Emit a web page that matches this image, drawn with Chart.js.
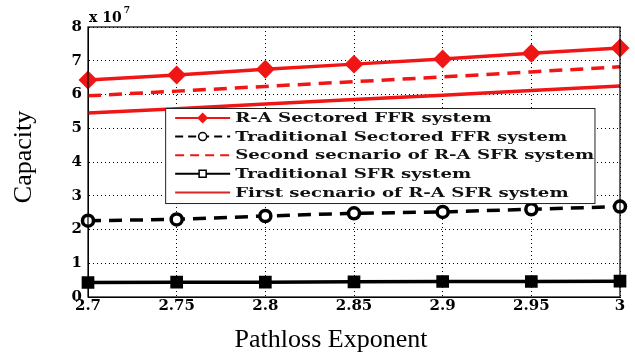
<!DOCTYPE html>
<html>
<head>
<meta charset="utf-8">
<script src="https://cdn.jsdelivr.net/npm/chart.js@4.4.1/dist/chart.umd.min.js"></script>
<style>
  html, body { margin:0; padding:0; background:#fff; }
  #wrap { width:635px; height:362px; }
</style>
</head>
<body>
<div id="wrap"><canvas id="c" width="635" height="362"></canvas></div>
<script>
/* ====== データ（値は ×10^7） ====== */
const xLabels = ['2.7','2.75','2.8','2.85','2.9','2.95','3'];
const raSectoredFFR   = [6.43, 6.58, 6.75, 6.90, 7.05, 7.22, 7.38];
const tradSectoredFFR = [2.26, 2.30, 2.40, 2.48, 2.52, 2.60, 2.68];
const secondScenario  = [5.96, 6.10, 6.24, 6.38, 6.52, 6.67, 6.82];
const tradSFR         = [0.43, 0.44, 0.44, 0.45, 0.46, 0.46, 0.47];
const firstScenario   = [5.45, 5.58, 5.72, 5.85, 5.98, 6.12, 6.25];
const yMin = 0, yMax = 8, yStep = 1;

const RED = 'rgb(240,22,22)';
const TICK_FONT = {family:'"DejaVu Serif"', size:15, weight:'bold'};

/* ====== 凡例（プロット内のボックス） ====== */
const boxLegend = {
  id:'boxLegend',
  afterDatasetsDraw(chart){
    const {ctx, chartArea:a} = chart;
    const w = a.right - a.left, h = a.bottom - a.top;
    const x0 = a.left + w*0.145, x1 = a.left + w*0.952;
    const y0 = a.top + h*0.30,  y1 = a.top + h*0.652;
    ctx.save();
    ctx.fillStyle = '#fff';
    ctx.fillRect(x0, y0, x1-x0, y1-y0);
    ctx.strokeStyle = '#222'; ctx.lineWidth = 1;
    ctx.strokeRect(x0+0.5, y0+0.5, x1-x0, y1-y0);
    ctx.font = 'bold 12.5px "DejaVu Serif"';
    ctx.textBaseline = 'middle';
    // 元図の凡例文字は横長なので横方向に伸ばす
    const sx = 332 / ctx.measureText('Traditional Sectored FFR system').width;
    chart.data.datasets.forEach((ds,i)=>{
      const y = y0 + 10 + i*18.6;
      const lx0 = x0 + 10, lx1 = x0 + 65;
      ctx.strokeStyle = ds.legendColor || ds.borderColor;
      ctx.lineWidth = ds.legendWidth || 2;
      ctx.setLineDash(ds.legendDash || []);
      ctx.beginPath(); ctx.moveTo(lx0,y); ctx.lineTo(lx1,y); ctx.stroke();
      ctx.setLineDash([]);
      if(ds.legendMarker){
        ctx.fillStyle = ds.legendFill; ctx.strokeStyle = ds.borderColor; ctx.lineWidth = 1.5;
        Chart.helpers.drawPoint(ctx, {pointStyle: ds.pointStyle, radius: ds.legendMarker, rotation:0, borderWidth:1.5}, (lx0+lx1)/2, y);
      }
      ctx.save();
      ctx.translate(x0 + 70, y + 1);
      ctx.scale(sx, 1);
      ctx.fillStyle = '#111';
      ctx.fillText(ds.label, 0, 0);
      ctx.restore();
    });
    ctx.restore();
  }
};

/* ====== 枠・軸タイトル・指数表示 ====== */
const frame = {
  id:'frame',
  afterDraw(chart){
    const {ctx, chartArea:a} = chart;
    ctx.save();
    ctx.strokeStyle = '#000'; ctx.lineWidth = 1.2;
    ctx.strokeRect(a.left, a.top, a.right-a.left, a.bottom-a.top);
    ctx.fillStyle = '#000';
    ctx.font = 'bold 14px "DejaVu Serif"';
    ctx.textBaseline = 'alphabetic';
    ctx.fillText('x 10', a.left + 1, a.top - 5);
    const wx = ctx.measureText('x 10').width;
    ctx.font = 'bold 9px "DejaVu Serif"';
    ctx.fillText('7', a.left + wx + 3, a.top - 14);
    ctx.font = '26px "Liberation Serif"';
    ctx.textAlign = 'center'; ctx.textBaseline = 'middle';
    ctx.fillText('Pathloss Exponent', 331, 340);
    ctx.translate(24, 157); ctx.rotate(-Math.PI/2);
    ctx.fillText('Capacity', 0, 0);
    ctx.restore();
  }
};

const lineDefaults = {borderWidth:3.5, pointRadius:6, clip:false, tension:0};

new Chart(document.getElementById('c'), {
  type:'line',
  data:{
    labels:xLabels,
    datasets:[
      {...lineDefaults, label:'R-A Sectored FFR system', data:raSectoredFFR,
       borderColor:RED, backgroundColor:RED, pointStyle:'rectRot', pointRadius:7,
       pointBackgroundColor:RED, pointBorderColor:RED,
       legendMarker:4.5, legendFill:RED},
      {...lineDefaults, label:'Traditional Sectored FFR system', data:tradSectoredFFR,
       borderColor:'#000', borderDash:[13,8], pointStyle:'circle', pointRadius:5.5,
       pointBackgroundColor:'#fff', pointBorderColor:'#000', pointBorderWidth:3.5,
       legendDash:[8,5], legendMarker:4, legendFill:'#fff'},
      {...lineDefaults, label:'Second secnario of R-A SFR system', data:secondScenario,
       borderColor:RED, borderDash:[13,8], pointRadius:0, legendDash:[9,6]},
      {...lineDefaults, label:'Traditional SFR system', data:tradSFR,
       borderColor:'#000', pointStyle:'rect', pointRadius:6.5,
       pointBackgroundColor:'#000', pointBorderColor:'#000',
       legendMarker:5, legendFill:'#fff'},
      {...lineDefaults, label:'First secnario of R-A SFR system', data:firstScenario,
       borderColor:RED, pointRadius:0, legendColor:'rgb(210,40,40)', legendWidth:2}
    ]
  },
  options:{
    responsive:false, animation:false,
    layout:{padding:{top:27, right:15, left:0, bottom:0}},
    plugins:{legend:{display:false}, tooltip:{enabled:false}},
    scales:{
      x:{
        type:'category', offset:false,
        grid:{color:'#000', lineWidth:1, drawTicks:false},
        border:{display:true, color:'#000', dash:[1,3]},
        ticks:{font:TICK_FONT, color:'#000', padding:0, maxRotation:0, autoSkip:false},
        afterFit(s){ s.height = 65; }
      },
      y:{
        min:yMin, max:yMax,
        grid:{color:'#000', lineWidth:1, drawTicks:false},
        border:{display:true, color:'#000', dash:[1,3]},
        ticks:{font:TICK_FONT, color:'#000', stepSize:yStep, padding:6},
        afterFit(s){ s.width = 88; }
      }
    }
  },
  plugins:[boxLegend, frame]
});
</script>
</body>
</html>
